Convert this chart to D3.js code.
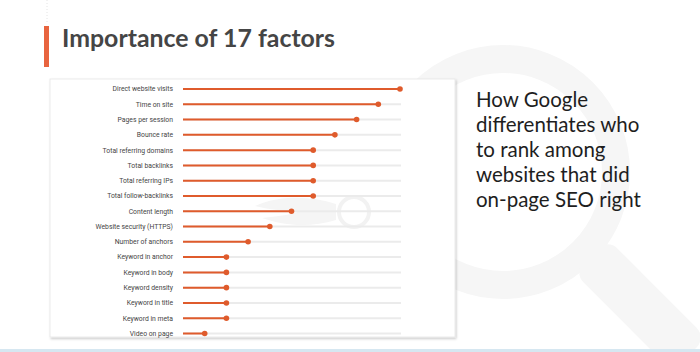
<!DOCTYPE html>
<html>
<head>
<meta charset="utf-8">
<script src="https://cdn.jsdelivr.net/npm/d3@7"></script>
<style>
  body { margin: 0; background: #fff; }
  svg { display: block; }
</style>
</head>
<body>
<div id="slide"></div>
<script>
// factors, top to bottom
var factors = ["Direct website visits", "Time on site", "Pages per session", "Bounce rate",
    "Total referring domains", "Total backlinks", "Total referring IPs", "Total follow-backlinks",
    "Content length", "Website security (HTTPS)", "Number of anchors", "Keyword in anchor",
    "Keyword in body", "Keyword density", "Keyword in title", "Keyword in meta", "Video on page"];
// importance score (track max = 10)
var scores = [10, 9, 8, 7, 6, 6, 6, 6, 5, 4, 3, 2, 2, 2, 2, 2, 1];
var sideLines = ["How Google", "differentiates who", "to rank among", "websites that did", "on-page SEO right"];

var svg = d3.select("#slide").append("svg")
    .attr("width", 700)
    .attr("height", 352);

// watermark magnifier in the background
svg.append("circle").attr("cx", 503).attr("cy", 172).attr("r", 113)
    .attr("fill", "none").attr("stroke", "#f6f6f6").attr("stroke-width", 28);
svg.append("rect")
    .attr("x", -24).attr("y", -70).attr("width", 48).attr("height", 140).attr("rx", 14)
    .attr("fill", "#f6f6f6")
    .attr("transform", "translate(640,305) rotate(-45)");

// faint dotted guide top-left
svg.append("line").attr("x1", 47).attr("x2", 47).attr("y1", 0).attr("y2", 24)
    .attr("stroke", "#e4e4e4").attr("stroke-dasharray", "1,2");

// title
svg.append("rect").attr("x", 44).attr("y", 26).attr("width", 5).attr("height", 41).attr("fill", "#e8643f");
svg.append("text")
    .attr("x", 62).attr("y", 47)
    .attr("font-family", "Lato, 'Open Sans', sans-serif")
    .attr("font-weight", "bold")
    .attr("font-size", 25)
    .attr("fill", "#454545")
    .attr("textLength", 273)
    .attr("lengthAdjust", "spacingAndGlyphs")
    .text("Importance of 17 factors");

// card with shadow
var defs = svg.append("defs");
var f = defs.append("filter").attr("id", "shadow").attr("x", "-5%").attr("y", "-5%").attr("width", "112%").attr("height", "112%");
f.append("feDropShadow").attr("dx", 1).attr("dy", 1.5).attr("stdDeviation", 1.2).attr("flood-color", "#000").attr("flood-opacity", 0.22);
svg.append("rect")
    .attr("x", 50).attr("y", 79).attr("width", 405).attr("height", 258)
    .attr("fill", "#fff").attr("stroke", "#e6e6e6").attr("stroke-width", 0.8)
    .attr("filter", "url(#shadow)");

// logo watermark inside card
svg.append("circle").attr("cx", 354).attr("cy", 212).attr("r", 15)
    .attr("fill", "none").attr("stroke", "#f2f2f2").attr("stroke-width", 4);
svg.append("path")
    .attr("d", "M255,206 C280,195 310,196 336,204 L336,220 C310,228 285,226 262,218 C280,216 295,214 300,211 C285,211 270,210 255,206 Z")
    .attr("fill", "#f5f5f5");

var x = d3.scaleLinear().domain([0, 10]).range([183, 400]);
var y = d3.scalePoint().domain(factors).range([89, 333.5]);

var rows = svg.append("g").selectAll("g").data(factors).enter().append("g")
    .attr("transform", function (d) { return "translate(0," + y(d) + ")"; });

rows.append("line")
    .attr("x1", x(0)).attr("x2", x(10) + 1)
    .attr("stroke", "#ebebeb").attr("stroke-width", 2);

rows.append("line")
    .attr("x1", x(0))
    .attr("x2", function (d, i) { return x(scores[i]); })
    .attr("stroke", "#df5b2c").attr("stroke-width", 2);

rows.append("circle")
    .attr("cx", function (d, i) { return x(scores[i]); })
    .attr("r", 2.8)
    .attr("fill", "#df5b2c");

rows.append("text")
    .attr("x", 173).attr("dy", "0.35em")
    .attr("text-anchor", "end")
    .attr("font-family", "Roboto, sans-serif")
    .attr("font-size", 6.8)
    .attr("fill", "#444")
    .text(function (d) { return d; });

// side text
svg.append("g").selectAll("text").data(sideLines).enter().append("text")
    .attr("x", 476)
    .attr("y", function (d, i) { return 107 + i * 25; })
    .attr("font-family", "Lato, sans-serif")
    .attr("font-size", 20.5)
    .attr("fill", "#1e1e1e")
    .text(function (d) { return d; });

// bottom rule
svg.append("rect").attr("x", 0).attr("y", 349).attr("width", 700).attr("height", 3).attr("fill", "#d6e7f1");
</script>
</body>
</html>
